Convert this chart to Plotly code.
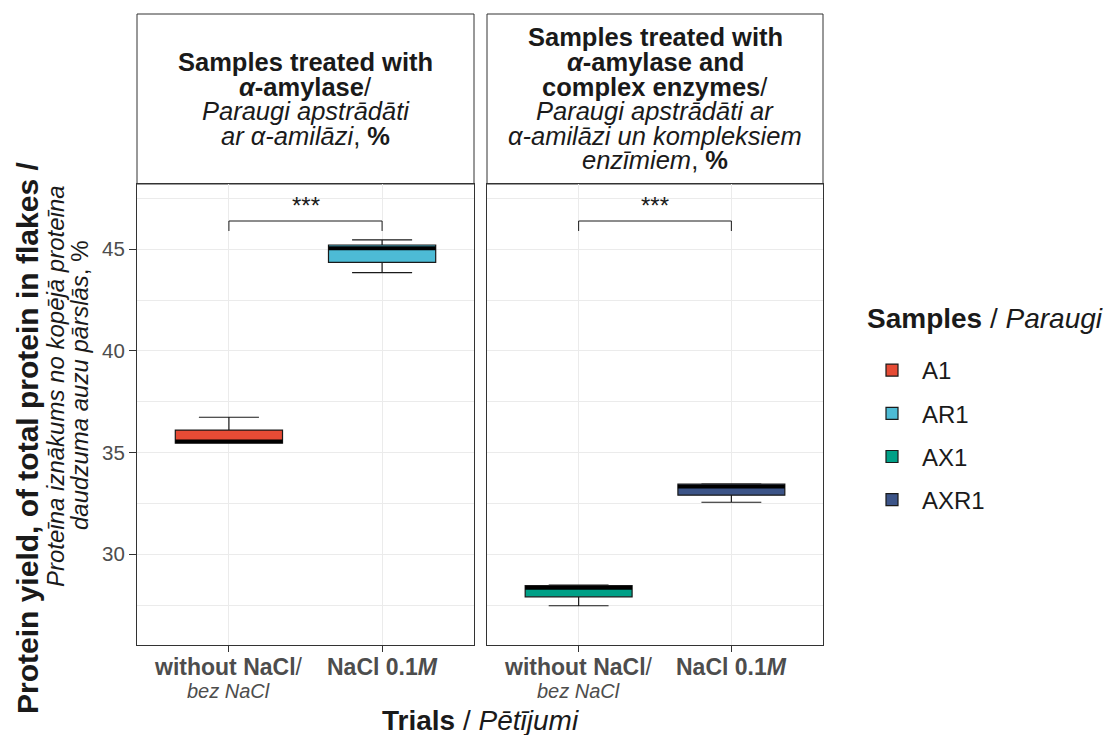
import plotly.graph_objects as go

# ---------------- data ----------------
samples = ["A1", "AR1", "AX1", "AXR1"]
colors = ["#E64B35", "#4DBBD5", "#00A087", "#3C5488"]
sample_panel = [1, 1, 2, 2]
sample_trial = [1, 2, 1, 2]
q1 = [35.47, 44.36, 27.91, 32.91]
median = [35.55, 45.05, 28.35, 33.33]
q3 = [36.11, 45.21, 28.46, 33.45]
lowerfence = [35.46, 43.85, 27.47, 32.56]
upperfence = [36.74, 45.46, 28.48, 33.47]

trial_positions = [1, 2]
trial_labels = ["<b>without NaCl</b>/", "<b>NaCl 0.1<i>M</i></b>"]
trial_sublabels = ["<i>bez NaCl</i>", ""]
y_ticks = [30, 35, 40, 45]
y_minor = [27.5, 32.5, 37.5, 42.5, 47.5]
y_range = [25.54, 48.21]

sig_panels = [1, 2]
sig_y = [46.39, 46.39]
sig_tip = 0.49
sig_label = "***"

strip_lines = [
    ["<b>Samples treated with</b>",
     "<b><i>α</i>-amylase</b>/",
     "<i>Paraugi apstrādāti</i>",
     "<i>ar α-amilāzi</i>, <b>%</b>"],
    ["<b>Samples treated with</b>",
     "<b><i>α</i>-amylase and</b>",
     "<b>complex enzymes</b>/",
     "<i>Paraugi apstrādāti ar</i>",
     "<i>α-amilāzi un kompleksiem</i>",
     "<i>enzīmiem</i>, <b>%</b>"],
]
y_title_lines = ["<b>Protein yield, of total protein in flakes /</b>",
                 "<i>Proteīna iznākums no kopējā proteīna</i>",
                 "<i>daudzuma auzu pārslās</i>, %"]
x_title = "<b>Trials</b> / <i>Pētījumi</i>"
legend_title = "<b>Samples</b> / <i>Paraugi</i>"

# ---------------- style ----------------
FONT = "Liberation Sans, Arial, sans-serif"
BOX_W = 0.7
OUTLINE = "#1a1a1a"
BORDER = "#333333"
GRID = "#EBEBEB"
TICKTXT = "#4D4D4D"
W, H = 1103, 735
M_L, M_R, M_T, M_B = 137, 280, 14, 90
plot_h = H - M_T - M_B
plot_w = W - M_L - M_R
panel_top = (645 - 184) / plot_h
dom1 = [0, 337 / plot_w]
dom2 = [350 / plot_w, 1]
STRIP_LH = 24.6


def py(pix):
    return (645 - pix) / plot_h


fig = go.Figure()

for i, s in enumerate(samples):
    xa = "x" if sample_panel[i] == 1 else "x2"
    ya = "y" if sample_panel[i] == 1 else "y2"
    pos = trial_positions[sample_trial[i] - 1]
    fig.add_trace(go.Box(
        name=s, x=[pos], q1=[q1[i]], median=[median[i]], q3=[q3[i]],
        lowerfence=[lowerfence[i]], upperfence=[upperfence[i]],
        width=BOX_W, whiskerwidth=0.56, fillcolor=colors[i],
        line=dict(color=OUTLINE, width=1.2), xaxis=xa, yaxis=ya,
        legendgroup=s, hoverinfo="skip", boxpoints=False))
for i, s in enumerate(samples):
    xa = "x" if sample_panel[i] == 1 else "x2"
    ya = "y" if sample_panel[i] == 1 else "y2"
    pos = trial_positions[sample_trial[i] - 1]
    fig.add_trace(go.Scatter(
        x=[pos - BOX_W / 2, pos + BOX_W / 2], y=[median[i], median[i]],
        mode="lines", line=dict(color="black", width=3.8),
        xaxis=xa, yaxis=ya, showlegend=False, hoverinfo="skip"))

# significance brackets
for p, yy in zip(sig_panels, sig_y):
    xa = "x" if p == 1 else "x2"
    ya = "y" if p == 1 else "y2"
    a, b = trial_positions
    fig.add_trace(go.Scatter(
        x=[a, a, b, b], y=[yy - sig_tip, yy, yy, yy - sig_tip],
        mode="lines", line=dict(color=OUTLINE, width=1),
        xaxis=xa, yaxis=ya, showlegend=False, hoverinfo="skip"))
    fig.add_annotation(x=(a + b) / 2, y=yy, xref=xa, yref=ya, text=sig_label,
                       showarrow=False, yanchor="bottom", yshift=0,
                       font=dict(size=24, color="#1a1a1a", family=FONT))

axis_common = dict(range=[0.4, 2.6], tickvals=trial_positions, showticklabels=False,
                   showline=True, linecolor=BORDER, linewidth=1, mirror=True,
                   ticks="outside", ticklen=6, tickcolor=BORDER,
                   showgrid=True, gridcolor=GRID, gridwidth=1, zeroline=False)
yaxis_common = dict(range=y_range, tickvals=y_ticks, domain=[0, panel_top],
                    showline=True, linecolor=BORDER, linewidth=1, mirror=True,
                    showgrid=True, gridcolor=GRID, gridwidth=1.2, zeroline=False,
                    minor=dict(tickvals=y_minor, showgrid=True,
                               gridcolor=GRID, gridwidth=0.6, ticks=""))

fig.update_layout(
    width=W, height=H,
    margin=dict(l=M_L, r=M_R, t=M_T, b=M_B),
    paper_bgcolor="white", plot_bgcolor="white",
    font=dict(family=FONT, color="black"),
    boxmode="overlay",
    xaxis=dict(domain=dom1, anchor="y", **axis_common),
    xaxis2=dict(domain=dom2, anchor="y2", **axis_common),
    yaxis=dict(anchor="x", ticks="outside", ticklen=7, tickcolor=BORDER,
               tickfont=dict(size=20.5, color=TICKTXT, family=FONT),
               **yaxis_common),
    yaxis2=dict(anchor="x2", matches="y", showticklabels=False, ticks="",
                **yaxis_common),
    legend=dict(x=(862 - M_L) / plot_w, xanchor="left",
                y=py(348), yanchor="top", itemwidth=50,
                font=dict(size=24, family=FONT, color="#1a1a1a"), tracegroupgap=9,
                bgcolor="rgba(0,0,0,0)"),
    showlegend=True,
)

# legend title
fig.add_annotation(x=(865 - M_L) / plot_w, xref="paper", xanchor="left",
                   y=py(318), yref="paper", yanchor="middle", text=legend_title,
                   showarrow=False, font=dict(size=28, color="#1a1a1a", family=FONT))

# strips and x tick labels
for k, dom in enumerate([dom1, dom2]):
    xr = "x domain" if k == 0 else "x2 domain"
    xd = "x" if k == 0 else "x2"
    fig.add_shape(type="rect", xref=xr, yref="paper", x0=0, x1=1, y0=panel_top, y1=1,
                  line=dict(color=BORDER, width=1), fillcolor="white", layer="below")
    lines = strip_lines[k]
    n = len(lines)
    yc = (panel_top + 1) / 2
    for j, t in enumerate(lines):
        fig.add_annotation(x=0.5, xref=xr, y=yc, yref="paper", text=t, showarrow=False,
                           yshift=((n - 1) / 2 - j) * STRIP_LH, yanchor="middle",
                           font=dict(size=25.5, color="#1a1a1a", family=FONT))
    for pos, lab, sub in zip(trial_positions, trial_labels, trial_sublabels):
        fig.add_annotation(x=pos, xref=xd, y=0, yref="paper", text=lab,
                           showarrow=False, yanchor="middle", yshift=-(667 - 645),
                           font=dict(size=23, color=TICKTXT, family=FONT))
        if sub:
            fig.add_annotation(x=pos, xref=xd, y=0, yref="paper", text=sub,
                               showarrow=False, yanchor="middle", yshift=-(691 - 645),
                               font=dict(size=20, color=TICKTXT, family=FONT))

# y title (three rotated lines)
y_title_pos = [(27, 438, 30), (55, 386, 24), (80, 385, 24)]
for t, (px_, py_, fs) in zip(y_title_lines, y_title_pos):
    fig.add_annotation(x=0, xref="paper", xshift=px_ - M_L, xanchor="center",
                       y=py(py_), yref="paper", yanchor="middle", textangle=-90,
                       text=t, showarrow=False,
                       font=dict(size=fs, color="#1a1a1a", family=FONT))

# x title
fig.add_annotation(x=0.5, xref="paper", y=0, yref="paper", text=x_title, showarrow=False,
                   yanchor="middle", yshift=-(720 - 645),
                   font=dict(size=28, color="#1a1a1a", family=FONT))

fig.write_html("out.html")
